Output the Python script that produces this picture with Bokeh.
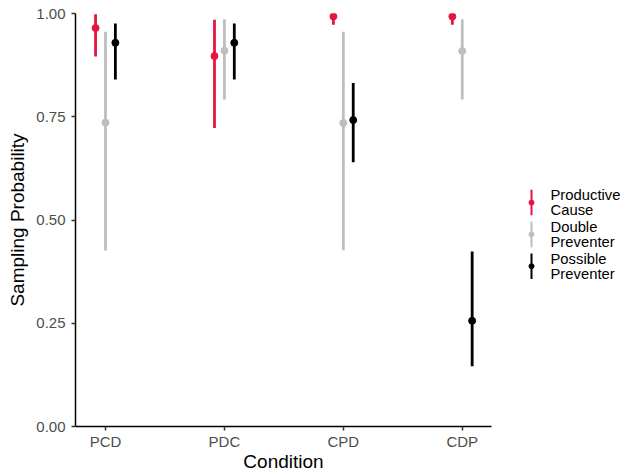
from bokeh.plotting import figure
from bokeh.models import Range1d, FixedTicker, ColumnDataSource
from bokeh.layouts import row
from bokeh.embed import file_html
from bokeh.resources import INLINE
from bokeh.core.properties import value

# ---------------- data ----------------
conditions = ["PCD", "PDC", "CPD", "CDP"]
series_names = ["Productive Cause", "Double Preventer", "Possible Preventer"]
legend_lines = [["Productive", "Cause"], ["Double", "Preventer"], ["Possible", "Preventer"]]

pc_mean = [0.965, 0.897, 0.993, 0.993]
pc_lower = [0.896, 0.723, 0.973, 0.973]
pc_upper = [0.998, 0.985, 1.000, 1.000]

dp_mean = [0.736, 0.910, 0.735, 0.909]
dp_lower = [0.426, 0.792, 0.427, 0.792]
dp_upper = [0.956, 0.986, 0.956, 0.986]

pp_mean = [0.929, 0.929, 0.742, 0.256]
pp_lower = [0.840, 0.840, 0.640, 0.146]
pp_upper = [0.976, 0.976, 0.832, 0.424]

y_ticks = [0.0, 0.25, 0.5, 0.75, 1.0]
y_tick_labels = ["0.00", "0.25", "0.50", "0.75", "1.00"]

# ---------------- style ----------------
colors = ["#E3173E", "#BEBEBE", "#000000"]
FONT = "Liberation Sans"
dodge = 0.0833
offsets = [-dodge, 0.0, dodge]

W, H = 625, 474
MAIN_W = 508
FRAME_TOP, FRAME_BOTTOM = 13, 427

means = [pc_mean, dp_mean, pp_mean]
lowers = [pc_lower, dp_lower, pp_lower]
uppers = [pc_upper, dp_upper, pp_upper]

p = figure(width=MAIN_W, height=H,
           x_range=Range1d(0.748, 4.246), y_range=Range1d(0, 1),
           output_backend="svg", toolbar_location=None,
           min_border_left=75, min_border_right=17,
           min_border_top=FRAME_TOP, min_border_bottom=H - FRAME_BOTTOM)
p.outline_line_color = None
p.grid.visible = False
p.background_fill_color = "white"
p.border_fill_color = "white"

for k in range(len(series_names)):
    xs = [i + 1 + offsets[k] for i in range(len(conditions))]
    src = ColumnDataSource(dict(x=xs, y=means[k], lo=lowers[k], hi=uppers[k]))
    p.segment(x0="x", y0="lo", x1="x", y1="hi", source=src,
              line_color=colors[k], line_width=2.8)
    p.scatter(x="x", y="y", source=src, size=7,
              fill_color=colors[k], line_color=colors[k])

# axes
p.xaxis.ticker = FixedTicker(ticks=[i + 1 for i in range(len(conditions))])
p.xaxis.major_label_overrides = {i + 1: c for i, c in enumerate(conditions)}
p.yaxis.ticker = FixedTicker(ticks=y_ticks)
p.yaxis.major_label_overrides = {t: l for t, l in zip(y_ticks, y_tick_labels)}

for ax in (p.xaxis, p.yaxis):
    ax.axis_line_color = "black"
    ax.axis_line_width = 1.5
    ax.major_tick_line_color = "#333333"
    ax.major_tick_line_width = 1.5
    ax.major_tick_out = 4
    ax.major_tick_in = 0
    ax.minor_tick_line_color = None
    ax.major_label_text_font = FONT
    ax.major_label_text_font_size = "15px"
    ax.major_label_text_color = "#4D4D4D"
    ax.axis_label_text_font = FONT
    ax.axis_label_text_font_size = "19px"
    ax.axis_label_text_font_style = "normal"
    ax.axis_label_text_color = "black"

p.xaxis.major_label_standoff = 2
p.xaxis.axis_label = "Condition"
p.xaxis.axis_label_standoff = -2
p.yaxis.major_label_standoff = 6
p.yaxis.axis_label = "Sampling Probability"
p.yaxis.axis_label_standoff = 5

# ---------------- legend panel ----------------
# the row aligns this panel's frame with the main frame, so its y range is
# expressed in the same page pixels (top = FRAME_TOP, bottom = FRAME_BOTTOM)
leg = figure(width=W - MAIN_W, height=H,
             x_range=Range1d(0, W - MAIN_W), y_range=Range1d(FRAME_BOTTOM, FRAME_TOP),
             output_backend="svg", toolbar_location=None,
             x_axis_location=None, y_axis_location=None, min_border=0)
leg.outline_line_color = None
leg.grid.visible = False

key_x = 23
key_y0 = 202.5
key_step = 31.9
key_half = 12.8
text_x = 42
line_gap = 15
for k in range(len(series_names)):
    yc = key_y0 + k * key_step
    leg.segment(x0=[key_x], y0=[yc - key_half], x1=[key_x], y1=[yc + key_half],
                line_color=colors[k], line_width=2)
    leg.scatter(x=[key_x], y=[yc], size=5, fill_color=colors[k], line_color=colors[k])
    leg.text(x=[text_x, text_x], y=[yc - 7.5, yc - 7.5 + line_gap], text=legend_lines[k],
             text_font=value(FONT), text_font_size="14.8px",
             text_baseline="alphabetic", text_color="black")

layout = row(p, leg)
open("out.html", "w").write(file_html(layout, INLINE))
